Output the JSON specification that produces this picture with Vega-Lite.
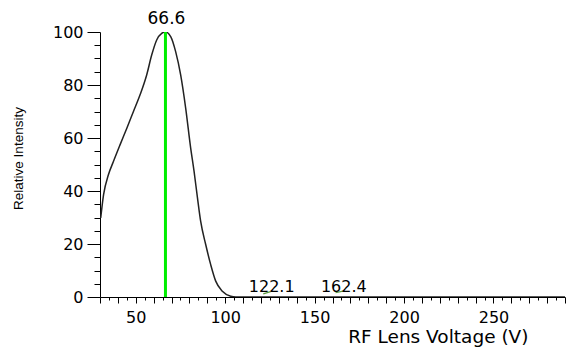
{
  "$schema": "https://vega.github.io/schema/vega-lite/v6.json",
  "width": 465,
  "height": 265,
  "autosize": {"type": "none"},
  "padding": {"left": 100, "top": 32, "right": 4, "bottom": 54},
  "background": "white",
  "config": {"view": {"stroke": null}, "font": "DejaVu Sans"},
  "datasets": {
    "curve": [
      {"v": 30.4, "i": 29.8}, {"v": 32.0, "i": 38.6}, {"v": 34.7, "i": 46.1}, {"v": 37.5, "i": 51.1},
      {"v": 41.2, "i": 57.4}, {"v": 45.0, "i": 63.7}, {"v": 48.7, "i": 70.0}, {"v": 52.4, "i": 76.3},
      {"v": 56.1, "i": 83.8}, {"v": 58.9, "i": 91.3}, {"v": 61.7, "i": 97.0}, {"v": 64.5, "i": 99.5},
      {"v": 66.6, "i": 100}, {"v": 69.6, "i": 98.2}, {"v": 72.3, "i": 92.6}, {"v": 75.1, "i": 83.8},
      {"v": 77.9, "i": 71.3}, {"v": 80.7, "i": 56.2}, {"v": 82.6, "i": 47.4}, {"v": 84.5, "i": 37.4},
      {"v": 86.3, "i": 28.5}, {"v": 89.1, "i": 19.8}, {"v": 91.9, "i": 12.2}, {"v": 94.7, "i": 6.0},
      {"v": 98.4, "i": 2.2}, {"v": 103.1, "i": 0.3}, {"v": 105.9, "i": 0}, {"v": 150, "i": 0},
      {"v": 200, "i": 0}, {"v": 290, "i": 0}
    ],
    "main": [{"peak": 66.6, "h": 100, "base": 0, "label": "66.6"}],
    "minor": [
      {"xa": 121.3, "xb": 125.4, "ya": 1.2, "yb": 2.0, "label": "122.1", "lx": 122.1, "base": 0},
      {"xa": 161.7, "xb": 165.8, "ya": 1.6, "yb": 2.2, "label": "162.4", "lx": 162.4, "base": 0}
    ]
  },
  "layer": [
    {
      "data": {"name": "curve"},
      "mark": {"type": "line", "color": "#222222", "strokeWidth": 1.5, "clip": true, "interpolate": "monotone"},
      "encoding": {
        "x": {
          "field": "v", "type": "quantitative",
          "scale": {"domain": [30, 290], "nice": false, "zero": false},
          "axis": {
            "values": [30,35,40,45,50,55,60,65,70,75,80,85,90,95,100,105,110,115,120,125,130,135,140,145,150,155,160,165,170,175,180,185,190,195,200,205,210,215,220,225,230,235,240,245,250,255,260,265,270,275,280,285,290],
            "tickCount": 200,
            "format": "d",
            "labelExpr": "datum.value % 50 === 0 ? datum.label : ''",
            "labelOverlap": false,
            "labelDx": 17,
            "labelPadding": 6,
            "labelFont": "DejaVu Sans",
            "labelFontSize": 16,
            "labelColor": "black",
            "tickSize": {"condition": {"test": "datum.value % 10 === 0", "value": 6}, "value": 3},
            "tickColor": "black",
            "domainColor": "black",
            "grid": false,
            "title": "RF Lens Voltage (V)",
            "titleFont": "DejaVu Sans",
            "titleFontSize": 18.5,
            "titleFontWeight": "normal",
            "titleColor": "black",
            "titleAlign": "right",
            "titleBaseline": "top",
            "titleX": 428,
            "titleY": 30
          }
        },
        "y": {
          "field": "i", "type": "quantitative",
          "scale": {"domain": [0, 100], "nice": false},
          "axis": {
            "values": [0,5,10,15,20,25,30,35,40,45,50,55,60,65,70,75,80,85,90,95,100],
            "tickCount": 200,
            "format": "d",
            "labelExpr": "datum.value % 20 === 0 ? datum.label : ''",
            "labelOverlap": false,
            "labelPadding": 4,
            "labelFont": "DejaVu Sans",
            "labelFontSize": 16,
            "labelColor": "black",
            "tickSize": {"condition": {"test": "datum.value % 20 === 0", "value": 13}, "value": 6},
            "tickColor": "black",
            "domainColor": "black",
            "grid": false,
            "title": "Relative Intensity",
            "titleFont": "Liberation Sans",
            "titleFontSize": 13.5,
            "titleFontWeight": "normal",
            "titleColor": "black",
            "titleAngle": -90,
            "titleAlign": "center",
            "titleBaseline": "bottom",
            "titleX": -75,
            "titleY": 126
          }
        }
      }
    },
    {
      "data": {"name": "main"},
      "mark": {"type": "rule", "color": "#00ee00", "strokeWidth": 3},
      "encoding": {
        "x": {"field": "peak", "type": "quantitative"},
        "y": {"field": "base", "type": "quantitative"},
        "y2": {"field": "h"}
      }
    },
    {
      "data": {"name": "minor"},
      "mark": {"type": "rule", "color": "#5a9a3a", "strokeWidth": 1.2},
      "encoding": {
        "x": {"field": "xa", "type": "quantitative"},
        "x2": {"field": "xb"},
        "y": {"field": "ya", "type": "quantitative"},
        "y2": {"field": "yb"}
      }
    },
    {
      "data": {"name": "main"},
      "mark": {"type": "text", "font": "DejaVu Sans", "fontSize": 17, "color": "black", "baseline": "bottom", "align": "center", "dy": -4, "dx": 1},
      "encoding": {
        "x": {"field": "peak", "type": "quantitative"},
        "y": {"field": "h", "type": "quantitative"},
        "text": {"field": "label"}
      }
    },
    {
      "data": {"name": "minor"},
      "mark": {"type": "text", "font": "DejaVu Sans", "fontSize": 16, "color": "black", "baseline": "bottom", "align": "center", "dy": -2, "dx": 7},
      "encoding": {
        "x": {"field": "lx", "type": "quantitative"},
        "y": {"field": "base", "type": "quantitative"},
        "text": {"field": "label"}
      }
    }
  ]
}
